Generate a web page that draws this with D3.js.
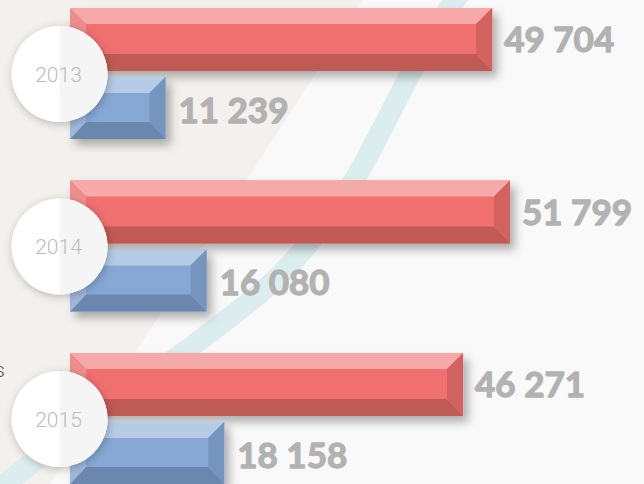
<!DOCTYPE html>
<html><head><meta charset="utf-8">
<script src="https://cdn.jsdelivr.net/npm/d3@7/dist/d3.min.js"></script>
<style>html,body{margin:0;padding:0;background:#f9f9f9;overflow:hidden}svg{display:block}</style>
</head><body>
<svg id="c" width="644" height="484"></svg>
<script>
const years = ["2013", "2014", "2015"];
const redValues = [49704, 51799, 46271];
const blueValues = [11239, 16080, 18158];

const W = 644, H = 484;
const svg = d3.select("#c");
const defs = svg.append("defs");
const f1 = defs.append("filter").attr("id","barShadow").attr("x","-10%").attr("y","-30%").attr("width","130%").attr("height","180%");
f1.append("feDropShadow").attr("dx",5).attr("dy",6).attr("stdDeviation",5).attr("flood-color","#000").attr("flood-opacity",0.3);
const f2 = defs.append("filter").attr("id","circShadow").attr("x","-30%").attr("y","-30%").attr("width","160%").attr("height","160%");
f2.append("feDropShadow").attr("dx",1).attr("dy",2).attr("stdDeviation",4).attr("flood-color","#000").attr("flood-opacity",0.25);

// background
svg.append("rect").attr("width",W).attr("height",H).attr("fill","#f9f9f9");
svg.append("path").attr("d","M0,0 L363,0 L50,484 L0,484 Z").attr("fill","#f3f0ed");
const curvePts = [[490,-40],[455,0],[418,60],[345,195],[280,275],[200,340],[100,412],[-10,495]];
svg.append("path").attr("d", d3.line().curve(d3.curveCatmullRom)(curvePts))
  .attr("fill","none").attr("stroke","#dcedef").attr("stroke-width",21);

svg.append("text").attr("x",5).attr("y",377).attr("text-anchor","end")
  .attr("font-family","Roboto, 'Noto Sans', sans-serif").attr("font-weight",300)
  .attr("font-size",20).attr("fill","#555").text("s");

const x = d3.scaleLinear().domain([0, 51799]).range([70, 510]);
const y = d3.scalePoint().domain(years).range([8, 353]);
const fmt = d3.formatLocale({decimal:".", thousands:" ", grouping:[3], currency:["",""]}).format(",d");

const redPal = {top:"#f5a9a8", mid:"#ef706e", bot:"#bf5a55", right:"#d2625e", left:"#ee8e8c"};
const bluePal = {top:"#b6cbe6", mid:"#87a8d4", bot:"#6c87ad", right:"#7595be", left:"#9fb8da"};

function bevelBar(g, x0, x1, y0, y1, pal){
  const b = 16, bb = 17;
  const gg = g.append("g").attr("filter","url(#barShadow)");
  gg.append("rect").attr("x",x0).attr("y",y0).attr("width",x1-x0).attr("height",y1-y0).attr("fill",pal.mid);
  const poly = (pts, fill) => gg.append("polygon").attr("points", pts.map(p=>p.join(",")).join(" ")).attr("fill", fill);
  poly([[x0,y0],[x1,y0],[x1-b,y0+b],[x0+b,y0+b]], pal.top);
  poly([[x0,y1],[x1,y1],[x1-b,y1-bb],[x0+b,y1-bb]], pal.bot);
  poly([[x1,y0],[x1,y1],[x1-b,y1-bb],[x1-b,y0+b]], pal.right);
  poly([[x0,y0],[x0,y1],[x0+b,y1-bb],[x0+b,y0+b]], pal.left);
}

const valueFont = "Lato, 'DejaVu Sans', sans-serif";
const fs = 35, cap = 0.717*fs;

function valueText(g, xx, yy, v){
  g.append("text").attr("x", xx).attr("y", yy)
    .attr("font-family", valueFont).attr("font-weight", 700).attr("font-size", fs)
    .attr("fill", "#b2b2b2").attr("stroke","#b2b2b2").attr("stroke-width",1.3)
    .attr("stroke-linejoin","round").text(fmt(v));
}

years.forEach((yr, i) => {
  const g = svg.append("g");
  const top = y(yr);
  const rY0 = top, rY1 = top + 63;
  const bY0 = top + 69, bY1 = top + 131;
  bevelBar(g, x(0), x(redValues[i]), rY0, rY1, redPal);
  bevelBar(g, x(0), x(blueValues[i]), bY0, bY1, bluePal);
  valueText(g, x(redValues[i]) + 12, (rY0+rY1)/2 + cap/2, redValues[i]);
  valueText(g, x(blueValues[i]) + 13, (bY0+bY1)/2 + 2 + cap/2, blueValues[i]);
  // circle
  const cx = 59.5, cy = top + 66, r = 48;
  const cg = g.append("g").attr("filter","url(#circShadow)");
  cg.append("circle").attr("cx",cx).attr("cy",cy).attr("r",r).attr("fill","#ffffff");
  cg.append("path").attr("d", `M${cx},${cy-r} A${r},${r} 0 0 1 ${cx},${cy+r} Z`).attr("fill","#f5f5f5");
  g.append("text").attr("x", cx-1).attr("y", cy + 7.5).attr("text-anchor","middle")
    .attr("font-family","Roboto, 'Noto Sans', sans-serif").attr("font-weight",300)
    .attr("font-size",21).attr("fill","#bcbcbc").text(yr);
});
</script>
</body></html>
